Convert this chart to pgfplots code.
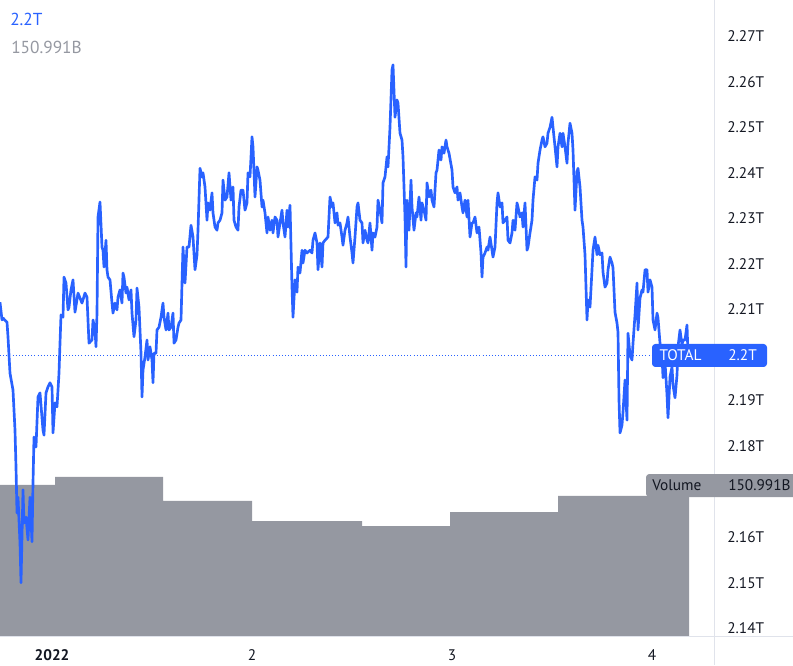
\documentclass[border=0pt]{standalone}
\usepackage{pgfplots}
\pgfplotsset{compat=1.18}
\usepackage{fontspec}
\setmainfont{PT Sans}
\definecolor{tvblue}{HTML}{2962FF}
\definecolor{volgray}{HTML}{9598A1}
\definecolor{tvtext}{HTML}{131722}
\definecolor{sepgray}{HTML}{E0E3EB}
\begin{document}
\begin{tikzpicture}
\path[use as bounding box] (0pt,-21.75pt) rectangle (594.75pt,477pt);
% volume (behind)
\begin{axis}[
  at={(0pt,0pt)}, anchor=south west,
  scale only axis, width=535.5pt, height=477pt,
  xmin=0.74, xmax=4.31, ymin=0, ymax=685.9,
  hide axis,
]
\addplot[const plot, fill=volgray, draw=none] coordinates {
(0.740,162.9) (1.015,171.5) (1.555,145.6) (2.000,124.0) (2.550,118.6) (2.990,133.7) (3.530,150.991) (4.185,150.991)
} \closedcycle;
\end{axis}
% separators
\draw[sepgray, line width=0.75pt] (535.5pt,-21.75pt) -- (535.5pt,477pt);
\draw[sepgray, line width=0.75pt] (0pt,0pt) -- (594.75pt,0pt);
% price
\begin{axis}[
  at={(0pt,0pt)}, anchor=south west,
  scale only axis, width=535.5pt, height=477pt,
  xmin=0.74, xmax=4.31, ymin=2.13831, ymax=2.27794,
  axis x line*=bottom, axis y line*=right,
  axis line style={draw=none}, tick style={draw=none}, major tick length=0pt,
  xtick={1,2,3,4}, xticklabels={\textbf{2022},2,3,4},
  ytick={2.14,2.15,2.16,2.18,2.19,2.2,2.21,2.22,2.23,2.24,2.25,2.26,2.27},
  yticklabels={2.14T,2.15T,2.16T,2.18T,2.19T,2.2T,2.21T,2.22T,2.23T,2.24T,2.25T,2.26T,2.27T},
  yticklabel style={anchor=west, inner sep=0pt, xshift=9.75pt, font=\fontsize{11.5}{13}\selectfont, text=tvtext},
  xticklabel style={anchor=center, inner sep=0pt, yshift=-14.25pt, font=\fontsize{11.5}{13}\selectfont, text=tvtext},
  clip=false,
]
\draw[tvblue, line width=0.75pt, dash pattern=on 0.75pt off 1.6pt] (axis cs:0.74,2.2) -- (axis cs:4.0,2.2);
\addplot[tvblue, line width=2pt, line join=round] table {
d v
0.740 2.2116
0.750 2.2077
0.755 2.2081
0.775 2.2072
0.780 2.2040
0.790 2.1960
0.805 2.1923
0.815 2.1835
0.820 2.1754
0.825 2.1653
0.830 2.1688
0.840 2.1587
0.845 2.1500
0.855 2.1704
0.860 2.1631
0.870 2.1644
0.880 2.1594
0.890 2.1688
0.900 2.1590
0.905 2.1719
0.910 2.1820
0.920 2.1798
0.930 2.1908
0.940 2.1917
0.955 2.1835
0.960 2.1824
0.970 2.1917
0.980 2.1930
0.990 2.1939
1.000 2.1930
1.005 2.1829
1.015 2.1895
1.025 2.1886
1.035 2.1960
1.040 2.2026
1.045 2.2088
1.055 2.2083
1.060 2.2171
1.070 2.2158
1.080 2.2099
1.085 2.2105
1.095 2.2143
1.105 2.2165
1.115 2.2094
1.130 2.2136
1.150 2.2114
1.165 2.2136
1.175 2.2127
1.185 2.2026
1.200 2.2033
1.205 2.2077
1.215 2.2055
1.220 2.2018
1.225 2.2092
1.230 2.2303
1.240 2.2336
1.250 2.2237
1.255 2.2230
1.260 2.2193
1.270 2.2252
1.275 2.2187
1.280 2.2171
1.290 2.2165
1.300 2.2114
1.305 2.2092
1.315 2.2114
1.325 2.2099
1.330 2.2127
1.340 2.2143
1.350 2.2114
1.355 2.2180
1.360 2.2171
1.370 2.2136
1.375 2.2149
1.385 2.2121
1.395 2.2143
1.400 2.2092
1.410 2.2040
1.420 2.2077
1.425 2.2147
1.435 2.2105
1.445 2.2004
1.450 2.1908
1.455 2.1967
1.465 2.1996
1.475 2.2033
1.480 2.1989
1.490 2.2018
1.500 2.1989
1.505 2.1939
1.510 2.2004
1.520 2.2004
1.525 2.2055
1.535 2.2061
1.545 2.2083
1.555 2.2114
1.560 2.2083
1.570 2.2055
1.580 2.2092
1.585 2.2055
1.595 2.2061
1.605 2.2092
1.610 2.2026
1.620 2.2033
1.630 2.2061
1.635 2.2070
1.645 2.2077
1.655 2.2237
1.665 2.2158
1.675 2.2237
1.685 2.2237
1.695 2.2285
1.705 2.2259
1.715 2.2187
1.725 2.2220
1.730 2.2274
1.740 2.2410
1.750 2.2391
1.755 2.2400
1.765 2.2369
1.775 2.2296
1.780 2.2334
1.790 2.2318
1.800 2.2356
1.805 2.2312
1.815 2.2281
1.825 2.2274
1.830 2.2290
1.840 2.2296
1.850 2.2312
1.855 2.2384
1.865 2.2340
1.875 2.2347
1.885 2.2400
1.895 2.2340
1.905 2.2369
1.910 2.2296
1.920 2.2281
1.930 2.2274
1.935 2.2325
1.945 2.2362
1.955 2.2362
1.965 2.2318
1.975 2.2334
1.980 2.2400
1.990 2.2391
2.000 2.2479
2.005 2.2457
2.015 2.2347
2.025 2.2413
2.030 2.2406
2.040 2.2384
2.050 2.2325
2.055 2.2340
2.065 2.2312
2.075 2.2268
2.080 2.2303
2.090 2.2274
2.100 2.2296
2.105 2.2268
2.115 2.2303
2.125 2.2296
2.130 2.2259
2.140 2.2290
2.150 2.2318
2.155 2.2290
2.165 2.2259
2.175 2.2318
2.180 2.2281
2.190 2.2329
2.200 2.2149
2.205 2.2083
2.215 2.2165
2.225 2.2138
2.230 2.2193
2.240 2.2180
2.250 2.2230
2.255 2.2202
2.265 2.2230
2.275 2.2224
2.290 2.2230
2.300 2.2224
2.305 2.2252
2.315 2.2268
2.325 2.2246
2.330 2.2187
2.340 2.2246
2.350 2.2193
2.355 2.2246
2.365 2.2252
2.380 2.2259
2.390 2.2347
2.400 2.2325
2.405 2.2334
2.415 2.2290
2.425 2.2312
2.430 2.2285
2.440 2.2290
2.450 2.2259
2.455 2.2241
2.465 2.2274
2.475 2.2290
2.480 2.2303
2.490 2.2259
2.500 2.2224
2.505 2.2202
2.515 2.2259
2.525 2.2325
2.530 2.2334
2.540 2.2296
2.550 2.2290
2.555 2.2246
2.565 2.2274
2.575 2.2252
2.580 2.2246
2.590 2.2290
2.600 2.2230
2.605 2.2268
2.615 2.2259
2.625 2.2281
2.630 2.2340
2.640 2.2318
2.650 2.2290
2.655 2.2378
2.665 2.2391
2.675 2.2435
2.680 2.2413
2.690 2.2500
2.700 2.2626
2.705 2.2637
2.715 2.2522
2.725 2.2560
2.730 2.2553
2.740 2.2487
2.750 2.2472
2.755 2.2435
2.765 2.2303
2.770 2.2193
2.775 2.2340
2.785 2.2274
2.795 2.2384
2.800 2.2325
2.810 2.2274
2.820 2.2312
2.825 2.2303
2.835 2.2347
2.845 2.2296
2.850 2.2334
2.860 2.2318
2.870 2.2296
2.875 2.2378
2.885 2.2347
2.895 2.2362
2.900 2.2340
2.910 2.2325
2.920 2.2400
2.925 2.2406
2.935 2.2450
2.945 2.2428
2.950 2.2457
2.960 2.2443
2.970 2.2472
2.975 2.2457
2.985 2.2443
3.000 2.2406
3.005 2.2369
3.015 2.2356
3.025 2.2369
3.030 2.2340
3.040 2.2356
3.050 2.2325
3.055 2.2312
3.065 2.2340
3.075 2.2303
3.080 2.2340
3.090 2.2259
3.100 2.2290
3.105 2.2290
3.115 2.2303
3.125 2.2268
3.135 2.2281
3.145 2.2224
3.150 2.2171
3.155 2.2215
3.165 2.2224
3.175 2.2237
3.180 2.2230
3.190 2.2259
3.200 2.2230
3.205 2.2215
3.215 2.2237
3.225 2.2334
3.230 2.2356
3.240 2.2325
3.250 2.2334
3.255 2.2290
3.265 2.2296
3.275 2.2303
3.280 2.2252
3.290 2.2246
3.300 2.2268
3.305 2.2296
3.315 2.2274
3.325 2.2334
3.330 2.2325
3.340 2.2303
3.350 2.2312
3.355 2.2281
3.365 2.2334
3.375 2.2230
3.380 2.2237
3.390 2.2268
3.400 2.2296
3.405 2.2340
3.415 2.2391
3.425 2.2384
3.430 2.2421
3.440 2.2450
3.450 2.2472
3.455 2.2479
3.465 2.2457
3.475 2.2465
3.480 2.2487
3.490 2.2500
3.500 2.2522
3.505 2.2500
3.515 2.2457
3.525 2.2413
3.530 2.2457
3.540 2.2487
3.550 2.2457
3.555 2.2487
3.565 2.2457
3.575 2.2421
3.580 2.2465
3.590 2.2509
3.600 2.2487
3.605 2.2450
3.615 2.2318
3.625 2.2402
3.630 2.2410
3.640 2.2369
3.650 2.2296
3.655 2.2281
3.665 2.2220
3.675 2.2077
3.680 2.2121
3.690 2.2105
3.700 2.2187
3.705 2.2230
3.715 2.2259
3.725 2.2220
3.730 2.2241
3.740 2.2220
3.750 2.2224
3.755 2.2182
3.765 2.2149
3.775 2.2158
3.780 2.2187
3.790 2.2215
3.800 2.2202
3.805 2.2191
3.815 2.2094
3.825 2.2070
3.830 2.2050
3.835 2.1901
3.840 2.1829
3.850 2.1846
3.855 2.1875
3.865 2.1945
3.875 2.1857
3.880 2.2048
3.890 2.2000
3.900 2.1989
3.905 2.2026
3.915 2.2088
3.925 2.2158
3.930 2.2055
3.940 2.2125
3.950 2.2143
3.955 2.2138
3.965 2.2187
3.975 2.2187
3.980 2.2138
3.990 2.2165
4.000 2.2149
4.005 2.2077
4.015 2.2055
4.025 2.2092
4.030 2.2081
4.040 2.2026
4.050 2.2000
4.055 2.1950
4.065 2.1985
4.075 2.1912
4.080 2.1862
4.090 2.1952
4.100 2.1974
4.105 2.1934
4.115 2.1906
4.125 2.1956
4.130 2.2018
4.140 2.2055
4.150 2.2022
4.155 2.2033
4.165 2.2033
4.175 2.2066
4.180 2.2000
};
\end{axis}
% header values
\node[anchor=west, inner sep=0pt, text=tvblue, font=\fontsize{13}{15}\selectfont] at (7.5pt,462.4pt) {2.2T};
\node[anchor=west, inner sep=0pt, text=volgray, font=\fontsize{13}{15}\selectfont] at (8.25pt,441.75pt) {150.991B};
% TOTAL price tag
\fill[tvblue, rounded corners=2.5pt] (489pt,201.75pt) rectangle (575.25pt,219pt);
\node[anchor=west, inner sep=0pt, text=white, font=\fontsize{11.5}{13}\selectfont] at (494.5pt,210.4pt) {TOTAL};
\node[anchor=west, inner sep=0pt, text=white, font=\fontsize{11.5}{13}\selectfont] at (546pt,210.4pt) {2.2T};
% Volume tag
\fill[volgray, rounded corners=2.5pt] (484.5pt,104.25pt) rectangle (600pt,121.5pt);
\node[anchor=west, inner sep=0pt, text=tvtext, font=\fontsize{11.5}{13}\selectfont] at (489pt,112.9pt) {Volume};
\node[anchor=west, inner sep=0pt, text=tvtext, font=\fontsize{11.5}{13}\selectfont] at (546pt,112.9pt) {150.991B};
\end{tikzpicture}
\end{document}
